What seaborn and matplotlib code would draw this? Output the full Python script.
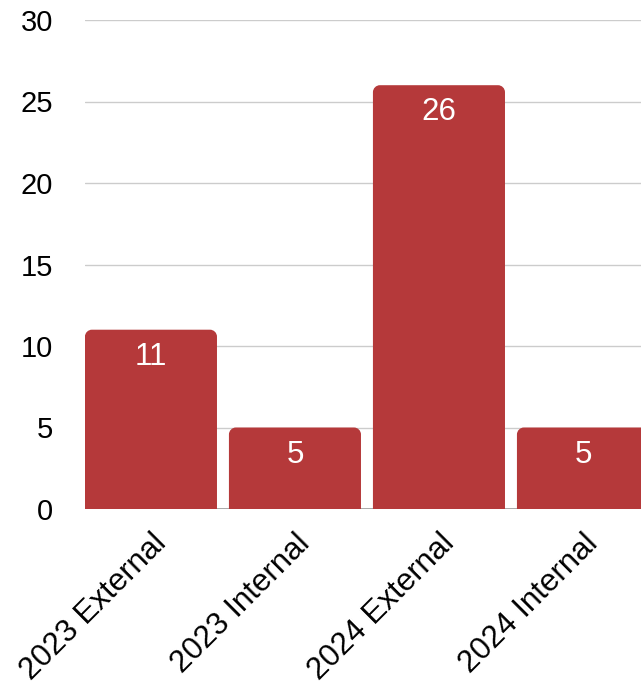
import matplotlib
matplotlib.use("Agg")
import matplotlib.pyplot as plt
import seaborn as sns
import pandas as pd
from matplotlib.path import Path
from matplotlib.patches import PathPatch

categories = ["2023 External", "2023 Internal", "2024 External", "2024 Internal"]
values = [11, 5, 26, 5]
yticks = [0, 5, 10, 15, 20, 25, 30]

BAR_COLOR = "#B5393A"

sns.set_theme(style="white")
plt.rcParams["font.family"] = ["Liberation Sans", "DejaVu Sans"]

df = pd.DataFrame({"category": categories, "value": values})

fig = plt.figure(figsize=(6.41, 6.94), dpi=100)
ax = fig.add_axes([85 / 641, 185 / 694, (641 - 85) / 641, (509 - 20) / 694])

sns.barplot(data=df, x="category", y="value", color=BAR_COLOR, width=0.917,
            saturation=1, ax=ax, zorder=3)

ax.set_xlim(-0.458, 3.403)
ax.set_ylim(0, 30)
ax.set_yticks(yticks)
ax.set_yticklabels([str(t) for t in yticks])
for s in ax.spines.values():
    s.set_visible(False)
for t in yticks[1:]:
    ax.axhline(t, color="#cccccc", lw=1, zorder=1)
ax.axhline(0, color="#999999", lw=1.2, zorder=1)

ax.set_xlabel("")
ax.set_ylabel("")
ax.tick_params(axis="y", length=0, pad=23, labelsize=21, colors="black")
ax.tick_params(axis="x", length=0, pad=14, labelsize=22.5, colors="black")
plt.setp(ax.get_xticklabels(), rotation=45, ha="right", rotation_mode="anchor")

# rounded top corners
fig.canvas.draw()
px_x = ax.transData.transform((1, 0))[0] - ax.transData.transform((0, 0))[0]
px_y = ax.transData.transform((0, 1))[1] - ax.transData.transform((0, 0))[1]
r = 7
rx, ry = r / px_x, r / px_y
k = 0.5523
for p in list(ax.patches):
    x0, y0 = p.get_x(), p.get_y()
    w, h = p.get_width(), p.get_height()
    x1, y1 = x0 + w, y0 + h
    verts = [
        (x0, y0), (x0, y1 - ry),
        (x0, y1 - ry + k * ry), (x0 + rx - k * rx, y1), (x0 + rx, y1),
        (x1 - rx, y1),
        (x1 - rx + k * rx, y1), (x1, y1 - ry + k * ry), (x1, y1 - ry),
        (x1, y0), (x0, y0),
    ]
    codes = [Path.MOVETO, Path.LINETO,
             Path.CURVE4, Path.CURVE4, Path.CURVE4,
             Path.LINETO,
             Path.CURVE4, Path.CURVE4, Path.CURVE4,
             Path.LINETO, Path.CLOSEPOLY]
    pp = PathPatch(Path(verts, codes), facecolor=BAR_COLOR, edgecolor="none", zorder=3)
    ax.add_patch(pp)
    p.set_visible(False)
    ax.annotate(str(int(round(h))), xy=(x0 + w / 2, y1), xytext=(0, -19.5),
                textcoords="offset points", ha="center", va="center",
                color="white", fontsize=22.5, zorder=4)

fig.savefig("out.png", dpi=100)
